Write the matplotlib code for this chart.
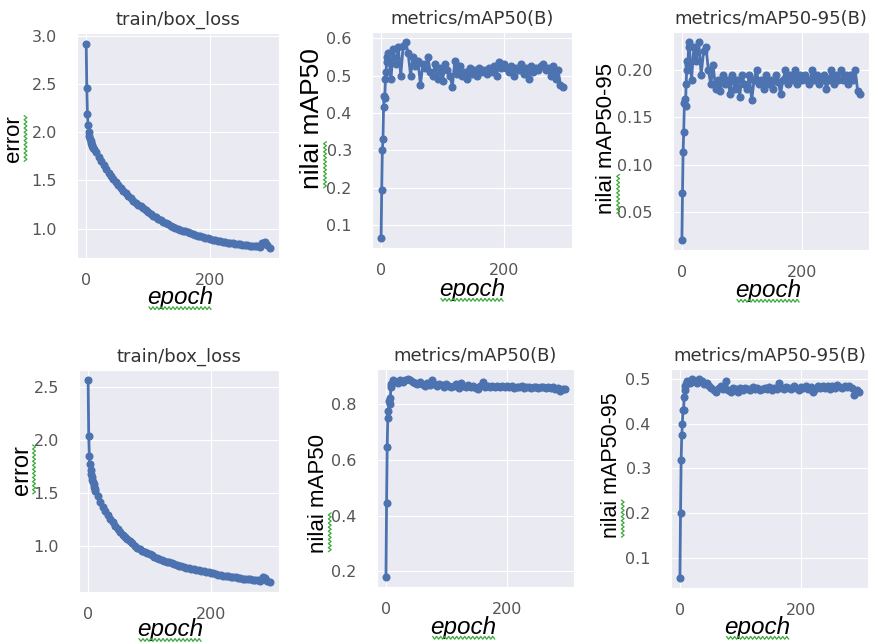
import numpy as np
import matplotlib
matplotlib.use("Agg")
import matplotlib.pyplot as plt
import seaborn as sns
from matplotlib.lines import Line2D

sns.set_style("darkgrid")
plt.rcParams['font.family'] = ['DejaVu Sans']

# epochs: first 12 one by one, then every 4th epoch
epochs = list(range(12)) + list(range(12, 300, 4))

# run A (top row)
box_loss_a = [2.92, 2.46, 2.19, 2.08, 2.00, 1.96, 1.93, 1.91, 1.89, 1.87, 1.86, 1.84,
              1.83, 1.79, 1.74, 1.70, 1.66, 1.62, 1.58, 1.55,
              1.51, 1.48, 1.45, 1.42, 1.39, 1.37, 1.34, 1.32,
              1.29, 1.27, 1.25, 1.23, 1.21, 1.19, 1.17, 1.15,
              1.13, 1.12, 1.10, 1.09, 1.07, 1.06, 1.05, 1.03,
              1.02, 1.01, 1.00, 0.99, 0.98, 0.97, 0.96, 0.95,
              0.94, 0.935, 0.925, 0.92, 0.91, 0.905, 0.90, 0.89,
              0.885, 0.88, 0.875, 0.87, 0.865, 0.86, 0.855, 0.85,
              0.848, 0.845, 0.84, 0.836, 0.832, 0.83, 0.826, 0.823,
              0.82, 0.818, 0.815, 0.812, 0.85, 0.86, 0.83, 0.80]
map50_a = [0.065, 0.195, 0.30, 0.33, 0.415, 0.445, 0.44, 0.49, 0.51, 0.535, 0.55, 0.545,
           0.56, 0.49, 0.57, 0.53, 0.575, 0.50, 0.58, 0.59,
           0.56, 0.50, 0.55, 0.525, 0.54, 0.475, 0.53, 0.52,
           0.55, 0.51, 0.50, 0.53, 0.49, 0.52, 0.485, 0.53,
           0.515, 0.50, 0.47, 0.54, 0.505, 0.525, 0.50, 0.51,
           0.49, 0.52, 0.505, 0.515, 0.50, 0.52, 0.51, 0.515,
           0.505, 0.52, 0.51, 0.525, 0.50, 0.535, 0.52, 0.53,
           0.52, 0.51, 0.525, 0.50, 0.52, 0.515, 0.53, 0.505,
           0.52, 0.49, 0.525, 0.51, 0.52, 0.515, 0.525, 0.53,
           0.515, 0.52, 0.50, 0.525, 0.49, 0.515, 0.475, 0.47]
map5095_a = [0.02, 0.07, 0.113, 0.135, 0.165, 0.17, 0.162, 0.185, 0.20, 0.21, 0.205, 0.225,
             0.23, 0.19, 0.225, 0.21, 0.23, 0.195, 0.22, 0.225,
             0.20, 0.185, 0.205, 0.18, 0.19, 0.178, 0.195, 0.185,
             0.19, 0.175, 0.195, 0.18, 0.19, 0.172, 0.195, 0.185,
             0.18, 0.195, 0.168, 0.19, 0.20, 0.185, 0.19, 0.18,
             0.195, 0.185, 0.19, 0.18, 0.195, 0.188, 0.175, 0.19,
             0.20, 0.185, 0.195, 0.19, 0.20, 0.185, 0.195, 0.19,
             0.195, 0.19, 0.185, 0.20, 0.19, 0.195, 0.185, 0.19,
             0.195, 0.18, 0.19, 0.20, 0.185, 0.195, 0.19, 0.20,
             0.19, 0.195, 0.185, 0.195, 0.19, 0.20, 0.178, 0.175]

# run B (bottom row)
box_loss_b = [2.57, 2.04, 1.85, 1.77, 1.72, 1.68, 1.65, 1.62, 1.60, 1.58, 1.56, 1.54,
              1.52, 1.47, 1.41, 1.37, 1.33, 1.29, 1.25, 1.22,
              1.19, 1.16, 1.13, 1.10, 1.08, 1.06, 1.04, 1.02,
              1.00, 0.98, 0.965, 0.95, 0.94, 0.93, 0.92, 0.91,
              0.895, 0.885, 0.875, 0.865, 0.855, 0.845, 0.84, 0.83,
              0.825, 0.82, 0.81, 0.805, 0.80, 0.79, 0.785, 0.78,
              0.775, 0.77, 0.765, 0.76, 0.755, 0.75, 0.745, 0.74,
              0.735, 0.73, 0.725, 0.72, 0.715, 0.712, 0.708, 0.705,
              0.70, 0.697, 0.694, 0.69, 0.687, 0.684, 0.68, 0.678,
              0.675, 0.672, 0.67, 0.668, 0.70, 0.69, 0.665, 0.655]
map50_b = [0.18, 0.445, 0.645, 0.75, 0.775, 0.81, 0.82, 0.80, 0.86, 0.87, 0.875, 0.88,
           0.885, 0.88, 0.875, 0.885, 0.88, 0.885, 0.89, 0.885,
           0.88, 0.875, 0.87, 0.878, 0.87, 0.865, 0.875, 0.868,
           0.885, 0.87, 0.865, 0.87, 0.868, 0.862, 0.87, 0.866,
           0.86, 0.865, 0.87, 0.858, 0.875, 0.865, 0.86, 0.868,
           0.862, 0.866, 0.858, 0.855, 0.865, 0.878, 0.862, 0.866,
           0.86, 0.865, 0.862, 0.866, 0.86, 0.865, 0.862, 0.866,
           0.86, 0.864, 0.858, 0.862, 0.86, 0.863, 0.858, 0.862,
           0.86, 0.858, 0.862, 0.86, 0.858, 0.862, 0.86, 0.858,
           0.86, 0.857, 0.86, 0.855, 0.858, 0.848, 0.855, 0.852]
map5095_b = [0.055, 0.20, 0.318, 0.375, 0.40, 0.43, 0.43, 0.46, 0.475, 0.485, 0.488, 0.49,
             0.495, 0.49, 0.50, 0.495, 0.49, 0.50, 0.495, 0.488,
             0.49, 0.485, 0.48, 0.475, 0.47, 0.48, 0.485, 0.478,
             0.495, 0.475, 0.47, 0.48, 0.478, 0.472, 0.48, 0.475,
             0.48, 0.478, 0.475, 0.482, 0.478, 0.48, 0.475, 0.478,
             0.48, 0.478, 0.482, 0.476, 0.48, 0.478, 0.49, 0.48,
             0.478, 0.482, 0.48, 0.478, 0.484, 0.48, 0.476, 0.482,
             0.48, 0.484, 0.478, 0.482, 0.472, 0.478, 0.484, 0.48,
             0.485, 0.48, 0.484, 0.478, 0.484, 0.48, 0.486, 0.482,
             0.48, 0.485, 0.482, 0.484, 0.48, 0.465, 0.475, 0.47]

titles = ["train/box_loss", "metrics/mAP50(B)", "metrics/mAP50-95(B)"] * 2
ylabels = ["error", "nilai mAP50", "nilai mAP50-95"] * 2
series = [box_loss_a, map50_a, map5095_a, box_loss_b, map50_b, map5095_b]
yticks = [[1.0, 1.5, 2.0, 2.5, 3.0],
          [0.1, 0.2, 0.3, 0.4, 0.5, 0.6],
          [0.05, 0.10, 0.15, 0.20],
          [1.0, 1.5, 2.0, 2.5],
          [0.2, 0.4, 0.6, 0.8],
          [0.1, 0.2, 0.3, 0.4, 0.5]]
ytick_fmt = ["%.1f", "%.1f", "%.2f", "%.1f", "%.1f", "%.1f"]

# layout (figure fractions) and label placement
positions = [[0.0877, 0.598, 0.230, 0.350],
             [0.4237, 0.6137, 0.2278, 0.3364],
             [0.7665, 0.6106, 0.2232, 0.3396],
             [0.090, 0.0779, 0.2278, 0.3458],
             [0.4294, 0.0857, 0.2244, 0.3396],
             [0.7642, 0.0841, 0.2244, 0.3411]]
ylab_xy = [(-0.26, 0.53), (-0.24, 0.60), (-0.285, 0.51),
           (-0.23, 0.55), (-0.245, 0.43), (-0.25, 0.56)]
ylab_size = [16, 19, 16, 17, 16, 15.5]
xlab_xy = [(0.51, -0.125), (0.50, -0.138), (0.485, -0.132),
           (0.455, -0.117), (0.44, -0.132), (0.44, -0.127)]
first_word = ["error", "nilai", "nilai"] * 2

blue = "#4C72B0"
fig = plt.figure(figsize=(8.78, 6.42), dpi=100)
axes = []
for i in range(6):
    ax = fig.add_axes(positions[i])
    ax.plot(epochs, series[i], marker='o', color=blue, lw=2.0, ms=4.8)
    ax.set_title(titles[i], fontsize=13, color='#333333', pad=6)
    ax.set_xticks([0, 200])
    ax.set_yticks(yticks[i])
    ax.set_yticklabels([ytick_fmt[i] % v for v in yticks[i]])
    ax.tick_params(axis='x', labelsize=11.5, labelcolor='#555555', pad=7)
    ax.tick_params(axis='y', labelsize=11.5, labelcolor='#555555', pad=11)
    ax.set_ylabel(ylabels[i], fontsize=ylab_size[i], family='Liberation Sans', color='black')
    ax.yaxis.set_label_coords(*ylab_xy[i])
    ax.set_xlabel("epoch", fontsize=17.5, family='Liberation Sans', style='italic', color='black')
    ax.xaxis.set_label_coords(*xlab_xy[i])
    axes.append(ax)

# green spell-check squiggles under the labels
fig.canvas.draw()
r = fig.canvas.get_renderer()
W, H = fig.bbox.width, fig.bbox.height


def squiggle(x0, y0, x1, y1):
    length = np.hypot(x1 - x0, y1 - y0)
    n = int(length / 2) + 1
    t = np.linspace(0, 1, n)
    ux, uy = (x1 - x0) / length, (y1 - y0) / length
    off = np.where(np.arange(n) % 2 == 0, 1.4, -1.4)
    xs = x0 + t * (x1 - x0) - uy * off
    ys = y0 + t * (y1 - y0) + ux * off
    fig.add_artist(Line2D(xs / W, ys / H, transform=fig.transFigure,
                          color='#3aa83a', lw=0.9))


for i, ax in enumerate(axes):
    bb = ax.xaxis.label.get_window_extent(r)
    squiggle(bb.x0 + 2, bb.y0 + 1, bb.x1 - 2, bb.y0 + 1)
    lab = ax.yaxis.label
    bb = lab.get_window_extent(r)
    tmp = fig.text(0, 0, first_word[i], fontproperties=lab.get_fontproperties())
    w = tmp.get_window_extent(r).width
    tmp.remove()
    squiggle(bb.x1 + 1, bb.y0 + 1, bb.x1 + 1, bb.y0 + w)

fig.savefig("out.png", dpi=100)
